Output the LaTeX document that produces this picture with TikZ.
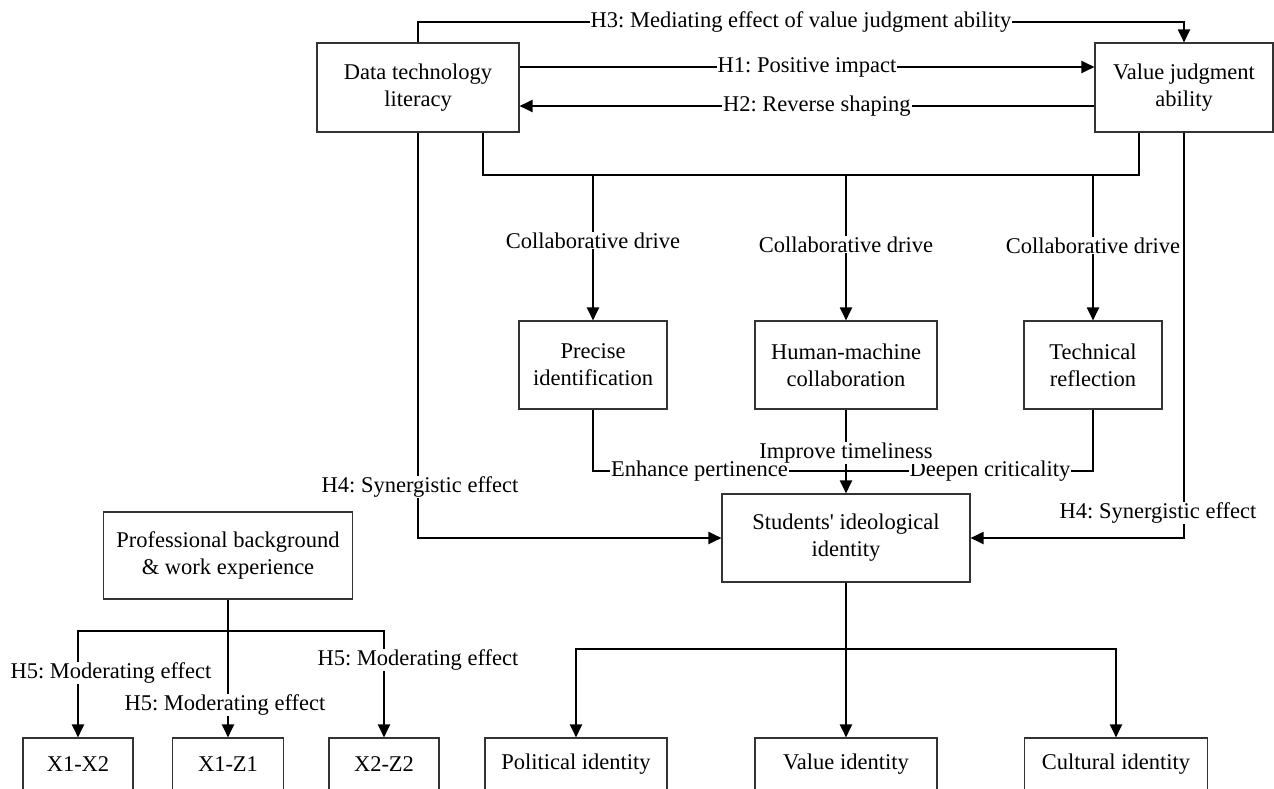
\documentclass[tikz,border=0pt]{standalone}
\usepackage{fontspec}
\setmainfont{Liberation Serif}[Ligatures=TeXOff]
\usetikzlibrary{arrows.meta}
\newcommand\myfs{\fontsize{22.5}{27}\selectfont}
\frenchspacing
\begin{document}
\frenchspacing
\begin{tikzpicture}[x=1pt,y=-1pt,
  box/.style={draw=black!80, line width=1.1pt, align=center, inner sep=0pt, font=\myfs},
  lbl/.style={fill=white, inner xsep=1pt, inner ysep=0.5pt, font=\myfs},
  conn/.style={line width=2pt},
  arr/.style={conn, -{Triangle[length=13pt,width=12pt]}}]
\useasboundingbox (0,0) rectangle (1274,789);

% nodes
\node[box, minimum width=202pt, minimum height=89pt] (dtl) at (418,87.5) {Data technology\\literacy};
\node[box, minimum width=178pt, minimum height=89pt] (vja) at (1184,87.5) {Value judgment\\ability};
\node[box, minimum width=148pt, minimum height=88pt] (pi) at (593,365) {Precise\\identification};
\node[box, minimum width=182pt, minimum height=88pt] (hmc) at (846,365) {Human-machine\\collaboration};
\node[box, minimum width=138pt, minimum height=88pt] (tr) at (1093,365) {Technical\\reflection};
\node[box, minimum width=248pt, minimum height=88pt] (sii) at (846,538) {Students' ideological\\identity};
\node[box, minimum width=249pt, minimum height=87pt] (pbw) at (228,555.5) {Professional background\\\& work experience};
\node[box, minimum width=110pt, minimum height=52pt] (x12) at (78,764) {X1-X2};
\node[box, minimum width=111pt, minimum height=52pt] (x1z1) at (228,764) {X1-Z1};
\node[box, minimum width=110pt, minimum height=52pt] (x2z2) at (384,764) {X2-Z2};
\node[box, minimum width=182pt, minimum height=52pt] (pol) at (576,764) {Political identity};
\node[box, minimum width=182pt, minimum height=52pt] (val) at (846,764) {Value identity};
\node[box, minimum width=183pt, minimum height=52pt] (cul) at (1116,764) {Cultural identity};

% helper coordinates
\coordinate (h3y) at (0,22);
\coordinate (h1y) at (0,67);
\coordinate (h2y) at (0,106);
\coordinate (bl) at (483,175);
\coordinate (br) at (1139,175);
\coordinate (ly) at (0,471);
\coordinate (sby) at (0,649);
\coordinate (pby) at (0,631);

% top connectors
\draw[arr] (dtl.north) -- (dtl.north |- h3y) -- node[lbl]{H3: Mediating effect of value judgment ability} (vja.north |- h3y) -- (vja.north);
\draw[arr] (dtl.east |- h1y) -- node[lbl]{H1: Positive impact} (vja.west |- h1y);
\draw[arr] (vja.west |- h2y) -- node[lbl, pos=0.483]{H2: Reverse shaping} (dtl.east |- h2y);

% collaborative bus
\draw[conn] (dtl.south -| bl) -- (bl) -- (br) -- (vja.south -| br);
\draw[arr] (bl -| pi.north) -- node[lbl, pos=0.452]{Collaborative drive} (pi.north);
\draw[arr] (bl -| hmc.north) -- node[lbl, pos=0.48]{Collaborative drive} (hmc.north);
\draw[arr] (bl -| tr.north) -- node[lbl, pos=0.486]{Collaborative drive} (tr.north);

% middle to students
\draw[conn] (pi.south) -- (pi.south |- ly) -- node[lbl, pos=0.213]{Enhance pertinence} node[lbl, pos=0.794]{Deepen criticality} (tr.south |- ly) -- (tr.south);
\draw[arr] (hmc.south) -- node[lbl, pos=0.52]{Improve timeliness} (sii.north);

% H4
\draw[arr] (dtl.south) |- (sii.west);
\node[lbl] (h4l) at (420,487) {H4: Synergistic effect};
\draw[arr] (vja.south) |- (sii.east);
\node[lbl] (h4r) at (1158,513) {H4: Synergistic effect};

% students to identities
\draw[arr] (sii.south) -- (val.north);
\draw[arr] (sii.south |- sby) -| (pol.north);
\draw[arr] (sii.south |- sby) -| (cul.north);

% professional background
\draw[arr] (pbw.south) -- (x1z1.north);
\draw[arr] (pbw.south |- pby) -| (x12.north);
\draw[arr] (pbw.south |- pby) -| (x2z2.north);
\node[lbl] (h5a) at (111,673) {H5: Moderating effect};
\node[lbl] (h5b) at (225,705) {H5: Moderating effect};
\node[lbl] (h5c) at (418,660) {H5: Moderating effect};
\end{tikzpicture}
\end{document}
